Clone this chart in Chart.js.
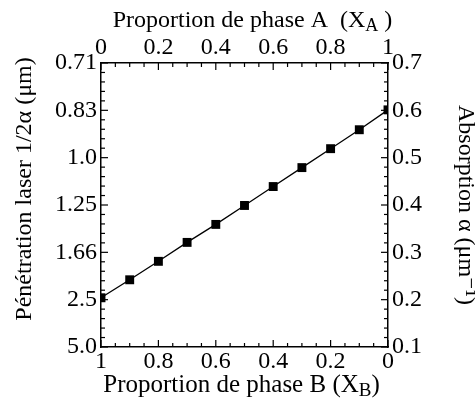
<!DOCTYPE html>
<html>
<head>
<meta charset="utf-8">
<script src="https://cdn.jsdelivr.net/npm/chart.js@4.4.1/dist/chart.umd.min.js"></script>
<style>
    html, body { margin: 0; padding: 0; background: #fff; }
    #wrap { width: 475px; height: 401px; }
</style>
</head>
<body>
<div id="wrap"><canvas id="absChart"></canvas></div>
<script>
// values
const phaseA = [0, 0.1, 0.2, 0.3, 0.4, 0.5, 0.6, 0.7, 0.8, 0.9, 1.0];
const absorption = [0.204, 0.242, 0.281, 0.321, 0.359, 0.399, 0.439, 0.479, 0.519, 0.559, 0.601];

// tick labels
const phaseTicks = [0, 0.2, 0.4, 0.6, 0.8, 1];
const alphaTicks = [0.1, 0.2, 0.3, 0.4, 0.5, 0.6, 0.7];
const penetrationLabels = ['5.0', '2.5', '1.66', '1.25', '1.0', '0.83', '0.71'];

const FONT = "'Liberation Serif', 'DejaVu Serif', serif";
const tickFont = { family: FONT, size: 24 };

function fmt(v) {
    if (Math.abs(v) < 1e-9) return '0';
    if (Math.abs(v - 1) < 1e-9) return '1';
    return v.toFixed(1);
}

// inward tick marks, placed through the scales
const innerTicks = {
    id: 'innerTicks',
    afterDraw(chart) {
        const { ctx, chartArea: a, scales } = chart;
        ctx.save();
        ctx.strokeStyle = '#000';
        ctx.lineWidth = 1.2;

        function mark(scale, v, len) {
            const p = scale.getPixelForValue(v);
            ctx.beginPath();
            if (scale.position === 'top') { ctx.moveTo(p, a.top); ctx.lineTo(p, a.top + len); }
            else if (scale.position === 'bottom') { ctx.moveTo(p, a.bottom); ctx.lineTo(p, a.bottom - len); }
            else if (scale.position === 'left') { ctx.moveTo(a.left, p); ctx.lineTo(a.left + len, p); }
            else { ctx.moveTo(a.right, p); ctx.lineTo(a.right - len, p); }
            ctx.stroke();
        }

        ['xA', 'xB'].forEach(id => {
            for (let i = 0; i <= 20; i++) mark(scales[id], i * 0.05, i % 4 === 0 ? 7 : 4);
        });
        ['yPen', 'yAbs'].forEach(id => {
            for (let i = 0; i <= 30; i++) mark(scales[id], 0.1 + i * 0.02, i % 5 === 0 ? 7 : 4);
        });
        ctx.restore();
    }
};

// axis titles (with subscripts)
function drawParts(ctx, parts, cx, y, size) {
    const subSize = Math.round(size * 0.75);
    let total = 0;
    parts.forEach(p => {
        ctx.font = (p.sub ? subSize : size) + 'px ' + FONT;
        p.w = ctx.measureText(p.t).width;
        total += p.w;
    });
    let x = cx - total / 2;
    parts.forEach(p => {
        ctx.font = (p.sub ? subSize : size) + 'px ' + FONT;
        ctx.fillText(p.t, x, y + (p.sub ? 4 : 0));
        x += p.w;
    });
}

const axisTitles = {
    id: 'axisTitles',
    afterDraw(chart) {
        const { ctx, chartArea: a } = chart;
        const cx = (a.left + a.right) / 2;
        ctx.save();
        ctx.fillStyle = '#000';
        ctx.textAlign = 'left';
        ctx.textBaseline = 'alphabetic';

        drawParts(ctx, [{ t: 'Proportion de phase A  (X' }, { t: 'A', sub: true }, { t: ' )' }], cx + 8, 27, 24);
        drawParts(ctx, [{ t: 'Proportion de phase B (X' }, { t: 'B', sub: true }, { t: ')' }], cx - 3, 392, 25);

        ctx.font = '24px ' + FONT;
        ctx.save();
        ctx.translate(31, 189);
        ctx.rotate(-Math.PI / 2);
        ctx.textAlign = 'center';
        ctx.fillText('Pénétration laser 1/2α (μm)', 0, 0);
        ctx.restore();

        ctx.save();
        ctx.translate(459, 205);
        ctx.rotate(Math.PI / 2);
        ctx.textAlign = 'center';
        ctx.fillText('Absorption α (μm⁻¹)', 0, 0);
        ctx.restore();

        ctx.restore();
    }
};

function axisBase(position, size) {
    return {
        type: 'linear',
        position: position,
        display: true,
        min: position === 'top' || position === 'bottom' ? 0 : 0.1,
        max: position === 'top' || position === 'bottom' ? 1 : 0.7,
        grid: { display: false, drawTicks: false },
        border: { display: true, color: '#000', width: 1.5 },
        afterFit: s => {
            if (s.isHorizontal()) s.height = size; else s.width = size;
        }
    };
}

const xA = axisBase('top', 63);
xA.afterBuildTicks = s => { s.ticks = phaseTicks.map(v => ({ value: v })); };
xA.ticks = { font: tickFont, color: '#000', padding: 1, maxRotation: 0, callback: v => fmt(v) };

const xB = axisBase('bottom', 54);
xB.reverse = true;
xB.afterBuildTicks = s => { s.ticks = phaseTicks.map(v => ({ value: v })); };
xB.ticks = { font: tickFont, color: '#000', padding: 0, maxRotation: 0, callback: v => fmt(v) };

const yPen = axisBase('left', 101);
yPen.afterBuildTicks = s => { s.ticks = alphaTicks.map(v => ({ value: v })); };
yPen.ticks = { font: tickFont, color: '#000', padding: 4, callback: (v, i) => penetrationLabels[i] };

const yAbs = axisBase('right', 87);
yAbs.afterBuildTicks = s => { s.ticks = alphaTicks.map(v => ({ value: v })); };
yAbs.ticks = { font: tickFont, color: '#000', padding: 4, callback: v => v.toFixed(1) };

new Chart(document.getElementById('absChart'), {
    type: 'scatter',
    data: {
        datasets: [{
            data: phaseA.map((x, i) => ({ x: x, y: absorption[i] })),
            xAxisID: 'xA',
            yAxisID: 'yAbs',
            showLine: true,
            borderColor: '#000',
            borderWidth: 1.3,
            pointStyle: 'rect',
            pointRadius: 6.3,
            pointBackgroundColor: '#000',
            pointBorderColor: '#000',
            pointBorderWidth: 0
        }]
    },
    options: {
        responsive: true,
        maintainAspectRatio: false,
        animation: false,
        layout: { padding: 0 },
        plugins: { legend: { display: false }, tooltip: { enabled: false } },
        scales: { xA: xA, xB: xB, yPen: yPen, yAbs: yAbs }
    },
    plugins: [innerTicks, axisTitles]
});
</script>
</body>
</html>
